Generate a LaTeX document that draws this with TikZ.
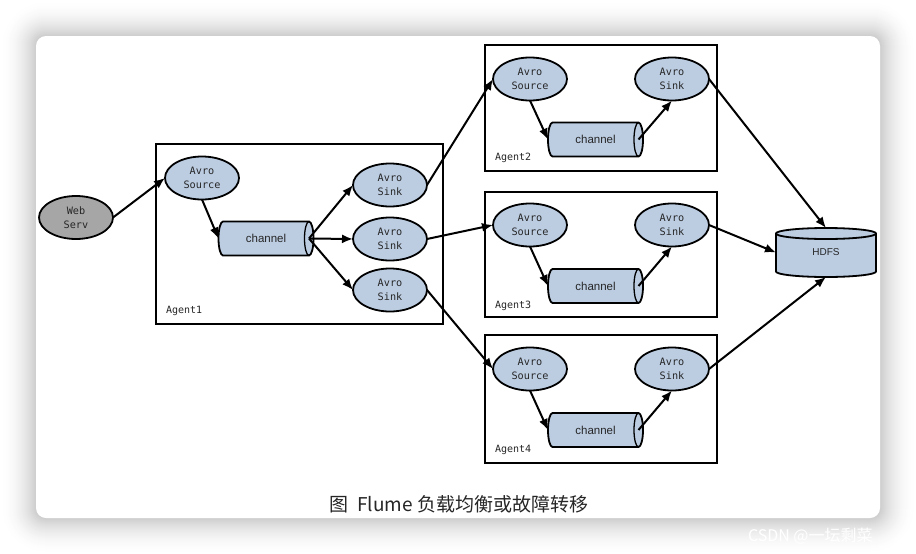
\documentclass[tikz,border=0pt]{standalone}
\usepackage{fontspec}
\setmainfont{Liberation Sans}
\newfontfamily\monof{DejaVu Sans Mono}
\newfontfamily\cjkf{Noto Sans CJK SC}
\usetikzlibrary{arrows.meta,shapes.geometric,calc}
\definecolor{nodeblue}{RGB}{188,205,226}
\definecolor{webgray}{RGB}{166,166,166}
\pgfdeclarelayer{bg}
\pgfsetlayers{bg,main}
\newcommand{\chanshape}[1]{%
  \begin{pgfonlayer}{bg}
  \filldraw[fill=nodeblue, draw=black, line width=1.8pt]
    ([xshift=4.5pt]#1.north west) -- ([xshift=-4.5pt]#1.north east)
    arc[start angle=90, end angle=-90, x radius=4.5pt, y radius=17pt]
    -- ([xshift=4.5pt]#1.south west)
    arc[start angle=270, end angle=90, x radius=4.5pt, y radius=17pt] -- cycle;
  \draw[line width=1.3pt] ([xshift=-4.5pt]#1.north east)
    arc[start angle=90, end angle=270, x radius=4.5pt, y radius=17pt];
  \end{pgfonlayer}}
\begin{document}
\begin{tikzpicture}[x=1pt,y=-1pt,
  every node/.style={inner sep=0pt, outer sep=0pt, text=black!85},
  oval/.style={ellipse, draw=black, line width=1.8pt, fill=nodeblue,
    minimum width=74pt, minimum height=43pt,
    font=\monof\fontsize{10.2}{14.5}\selectfont, align=center},
  agentbox/.style={draw=black, line width=2pt, anchor=north west},
  agentlabel/.style={anchor=west, font=\monof\fontsize{10}{12}\selectfont},
  chan/.style={minimum width=95pt, minimum height=34pt, font=\fontsize{11.5}{13}\selectfont},
  conn/.style={line width=2pt, -{Latex[length=11pt,width=9pt]}},
]
\useasboundingbox (0,0) rectangle (916,554);
\begin{pgfonlayer}{bg}
  \fill[white] (0,0) rectangle (916,554);
  \foreach \i in {36,35,...,1}{
    \pgfmathsetmacro\p{20*(1-\i/37)^2}
    \pgfmathsetmacro\r{10+\i}
    \fill[black!\p, rounded corners=\r pt] (36-\i,36-\i) rectangle (880+\i,518+\i);
  }
  \fill[white, rounded corners=10pt] (36,36) rectangle (880,518);
\end{pgfonlayer}

% Web server
\node[oval, fill=webgray] (web) at (76,217.5) {Web\\Serv};

% Agent1
\node[agentbox, minimum width=287pt, minimum height=180pt] (ag1) at (156,144) {};
\node[agentlabel] (ag1l) at (166,311) {Agent1};
\node[oval] (src1) at (202,178) {Avro\\Source};
\node[chan] (ch1) at (266,238.5) {channel};
\chanshape{ch1}
\coordinate (ch1e) at ([xshift=-4.5pt]ch1.east);
\node[oval] (ka) at (390,185) {Avro\\Sink};
\node[oval] (kb) at (390,239) {Avro\\Sink};
\node[oval] (kc) at (390,290) {Avro\\Sink};

% Agent2
\node[agentbox, minimum width=232pt, minimum height=126pt] (ag2) at (485,45) {};
\node[agentlabel] (ag2l) at (495,158) {Agent2};
\node[oval] (src2) at (530,79) {Avro\\Source};
\node[oval] (snk2) at (672,79) {Avro\\Sink};
\node[chan] (ch2) at (595.5,139.5) {channel};
\chanshape{ch2}
\coordinate (ch2e) at ([xshift=-4.5pt]ch2.east);

% Agent3
\node[agentbox, minimum width=232pt, minimum height=125pt] (ag3) at (485,192) {};
\node[agentlabel] (ag3l) at (495,306) {Agent3};
\node[oval] (src3) at (530,225) {Avro\\Source};
\node[oval] (snk3) at (672,225) {Avro\\Sink};
\node[chan] (ch3) at (595.5,286) {channel};
\chanshape{ch3}
\coordinate (ch3e) at ([xshift=-4.5pt]ch3.east);

% Agent4
\node[agentbox, minimum width=232pt, minimum height=128pt] (ag4) at (485,335) {};
\node[agentlabel] (ag4l) at (495,450) {Agent4};
\node[oval] (src4) at (530,369) {Avro\\Source};
\node[oval] (snk4) at (672,369) {Avro\\Sink};
\node[chan] (ch4) at (595.5,430) {channel};
\chanshape{ch4}
\coordinate (ch4e) at ([xshift=-4.5pt]ch4.east);

% HDFS
\node[minimum width=100pt, minimum height=49pt, font=\fontsize{10}{11}\selectfont] (hdfs) at (826,252.5) {HDFS};
\begin{pgfonlayer}{bg}
  \filldraw[fill=nodeblue, draw=black, line width=1.8pt]
    ([yshift=-5.5pt]hdfs.north west) -- ([yshift=5.5pt]hdfs.south west)
    arc[start angle=180, end angle=360, x radius=50pt, y radius=5.5pt]
    -- ([yshift=-5.5pt]hdfs.north east)
    arc[start angle=0, end angle=180, x radius=50pt, y radius=5.5pt] -- cycle;
  \draw[line width=1.8pt] ([yshift=-5.5pt]hdfs.north west)
    arc[start angle=180, end angle=360, x radius=50pt, y radius=5.5pt];
\end{pgfonlayer}

% connectors
\draw[conn] (web.east) -- (src1.west);
\draw[conn] (src1.south) -- (ch1.west);
\draw[conn] (ch1e) -- (ka.west);
\draw[conn] (ch1e) -- (kb.west);
\draw[conn] (ch1e) -- (kc.west);
\draw[conn] (ka.east) -- (src2.west);
\draw[conn] (kb.east) -- (src3.west);
\draw[conn] (kc.east) -- (src4.west);
\foreach \j in {2,3,4}{
  \draw[conn] (src\j.south) -- (ch\j.west);
  \draw[conn] (ch\j e) -- (snk\j.south);
}
\draw[conn] (snk2.east) -- (hdfs.north);
\draw[conn] (snk3.east) -- (hdfs.west);
\draw[conn] (snk4.east) -- (hdfs.south);

% caption and watermark
\node[font=\cjkf\fontsize{19}{24}\selectfont, text=black!85] (cap) at (459,504) {图\hspace{0.45em}Flume 负载均衡或故障转移};
\node[anchor=west, font=\cjkf\fontsize{16}{18}\selectfont, text=white] (wm) at (748,536) {CSDN @一坛剩菜};
\end{tikzpicture}
\end{document}
